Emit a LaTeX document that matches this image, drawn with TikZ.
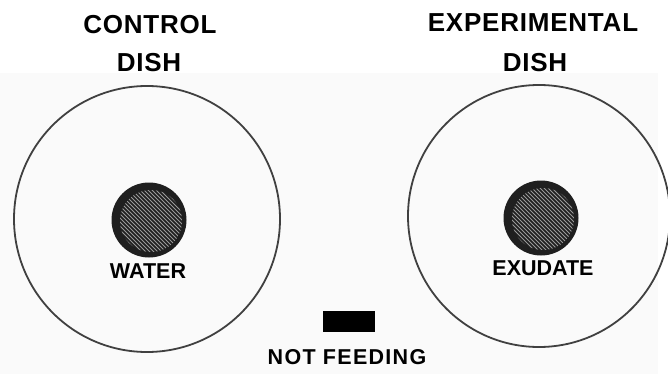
\documentclass[tikz,border=0pt]{standalone}
\usepackage{fontspec}
\setmainfont{Liberation Sans}
\tikzset{
  dish/.style={circle, draw=black!75, line width=1.8pt, inner sep=0pt},
  blob/.style={circle, fill=black!88, inner sep=0pt, minimum size=75pt},
  hatch/.style={black!40, line width=1pt},
  title/.style={font=\fontsize{26}{26}\selectfont\bfseries\addfontfeature{LetterSpace=3}, inner sep=0pt, anchor=center},
  label/.style={font=\fontsize{21.5}{22}\selectfont\bfseries, inner sep=0pt, anchor=center},
}
\begin{document}
\begin{tikzpicture}[x=1pt,y=-1pt]
\useasboundingbox (0,0) rectangle (668,374);
\clip (0,0) rectangle (668,374);
\fill[black!2] (0,73) rectangle (658,374);
% dishes
\node[dish, minimum size=266pt] (ctrl) at (147,219) {};
\node[dish, minimum size=262pt] (expt) at (539,216) {};
% blobs
\node[blob] (wblob) at (149,220) {};
\node[blob] (eblob) at (541,218) {};
\begin{scope}
  \clip (151,221) circle (31);
  \foreach \i in {-80,-76,...,80} {
    \draw[hatch] (151+\i-45,221-45) -- (151+\i+45,221+45);
  }
\end{scope}
\begin{scope}
  \clip (543,219) circle (31);
  \foreach \i in {-80,-76,...,80} {
    \draw[hatch] (543+\i-45,219-45) -- (543+\i+45,219+45);
  }
\end{scope}
% titles
\node[title] (t1) at (150,25) {CONTROL};
\node[title] (t2) at (149,63) {DISH};
\node[title] (t3) at (533,23) {EXPERIMENTAL};
\node[title] (t4) at (535,63) {DISH};
% labels
\node[label] (wl) at (148,271) {WATER};
\node[label] (el) at (543,268) {EXUDATE};
\node[fill=black, minimum width=52pt, minimum height=21pt, inner sep=0pt] (nf) at (349,321) {};
\node[label, font=\fontsize{21.5}{22}\selectfont\bfseries\addfontfeature{LetterSpace=6}] (nfl) at (347,357) {NOT FEEDING};
\end{tikzpicture}
\end{document}
